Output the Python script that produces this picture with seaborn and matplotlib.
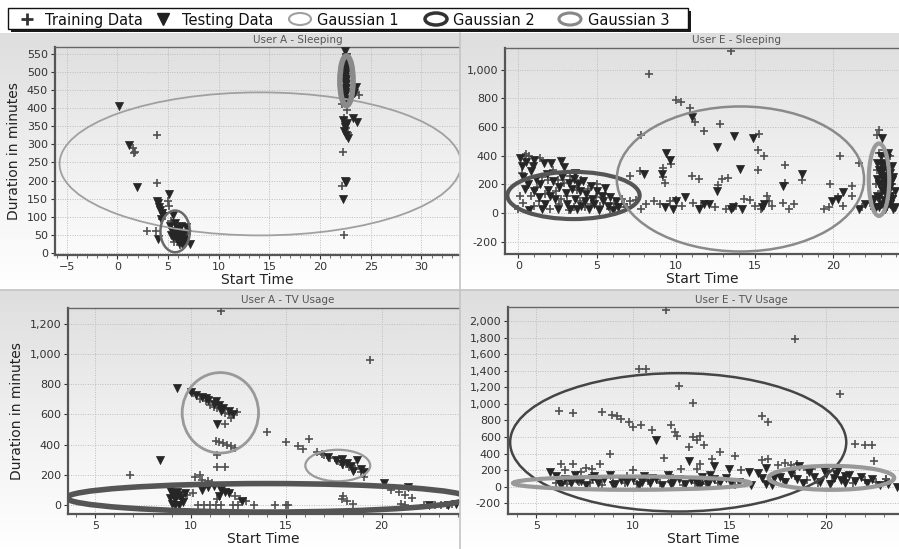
import numpy as np
import pandas as pd
import seaborn as sns
import matplotlib
matplotlib.use("Agg")
import matplotlib.pyplot as plt
from matplotlib.patches import Ellipse, Rectangle
from matplotlib.lines import Line2D
from matplotlib.ticker import MultipleLocator, FuncFormatter
from matplotlib.colors import LinearSegmentedColormap

# ---------------- data ----------------
# User A - Sleeping
a_sleep_train = [(1.5,290),(1.6,275),(1.7,280),(3.9,325),(3.9,193),(2.9,60),(3.8,62),(5.0,145),(5.1,130),(4.7,110),
                 (4.4,95),(5.3,88),(6.4,65),(6.9,52),(5.6,32),(6.2,22),(7.0,62),(5.9,45),(6.6,30),(5.4,70),
                 (22.3,520),(22.2,500),(22.4,480),(22.3,450),(22.6,430),(22.2,410),(22.7,395),(23.8,435),(23.4,442),
                 (22.4,372),(22.6,345),(22.3,280),(22.2,185),(22.4,50),(22.8,330),(22.5,415),(22.6,545),(22.7,520),(22.5,460)]
a_sleep_test = [(0.2,405),(1.1,298),(1.9,183),(3.9,145),(4.0,138),(4.1,128),(4.2,118),(4.4,110),(4.5,103),(4.3,93),
                (4.0,40),(5.1,163),(5.5,105),(5.2,75),(5.4,62),(5.6,55),(5.8,50),(6.0,45),(6.2,40),(5.9,35),(6.1,28),
                (6.4,25),(6.6,55),(6.8,72),(7.2,25),(6.3,75),(5.7,82),(6.5,40),(5.5,45),(6.0,60),(5.9,70),(6.7,35),
                (5.3,50),(6.3,50),
                (22.5,557),(22.6,540),(22.4,515),(22.6,495),(22.5,475),(22.6,455),(22.5,435),(22.7,505),(22.5,485),
                (22.6,465),(22.4,445),(22.5,525),(22.6,510),(22.5,500),(22.6,480),(22.5,468),(22.6,445),(22.5,425),
                (22.6,415),(22.5,455),(22.5,530),(22.6,420),
                (23.5,458),(23.3,440),(23.2,372),(23.6,362),(22.3,366),(22.5,352),(22.4,337),
                (22.6,326),(22.8,316),(22.5,348),(22.7,360),(22.5,200),(22.6,195),(22.3,150)]
# (center x, center y, width, height, colour, linewidth)
a_sleep_gauss = [(14.1,246,39.6,394,'#a0a0a0',1.3),(5.7,60,2.9,115,'#6a6a6a',1.8),(22.6,475,1.3,137,'#8a8a8a',4.0)]

# User E - Sleeping
e_sleep_train = [(0.0,30),(0.1,120),(0.2,280),(0.3,70),(0.5,410),(0.7,400),(0.8,120),(1.0,50),(1.2,180),(1.4,380),
                 (1.5,250),(1.7,130),(2.0,30),(2.2,300),(2.4,150),(2.6,60),(2.9,210),(3.1,120),(3.3,260),(3.5,40),
                 (3.7,160),(4.0,230),(4.2,40),(4.4,170),(4.6,60),(4.9,110),(5.2,50),(5.5,130),(5.8,30),(6.1,60),
                 (6.4,40),(6.7,60),(6.9,40),(7.1,80),(0.4,400),(1.9,230),(2.7,100),(3.9,80),(5.0,200),(6.6,100),
                 (3.2,20),(2.5,230),(1.3,80),
                 (13.5,1130),(8.3,970),(10.0,785),(10.3,775),(10.9,730),(11.2,635),(11.8,570),(12.8,620),(7.8,545),
                 (15.3,550),(15.2,440),(15.6,400),(15.2,300),(16.9,335),(16.9,210),(18.0,230),(20.4,400),(21.6,350),
                 (19.8,200),(21.2,185),(21.2,120),(9.2,315),(9.2,250),(9.3,210),(9.7,340),(7.1,255),(7.7,295),
                 (11.0,260),(11.5,240),(12.7,195),(12.9,240),(13.3,245),(7.5,90),(7.8,30),(8.1,60),(8.6,80),(9.0,60),
                 (9.6,80),(10.0,90),(10.4,50),(11.1,70),(11.6,50),(12.5,40),(13.2,30),(13.8,50),(14.3,100),(14.7,90),
                 (15.0,50),(15.4,30),(15.9,80),(15.8,120),(16.1,50),(16.8,70),(17.2,30),(17.5,60),(19.4,30),(19.7,40),
                 (20.3,110),(20.6,50),(21.8,40),(22.3,70),
                 (22.9,580),(22.8,545),(22.6,60),(22.7,200),(22.8,300),(22.9,420),(23.0,150),(23.1,340),(23.2,50),
                 (23.3,260),(23.4,170),(23.5,330),(23.5,80),(23.6,400),(23.7,200),(23.8,120),(23.0,230),(23.2,440),
                 (23.4,40),(22.6,30)]
e_sleep_test = [(0.1,385),(0.2,330),(0.3,250),(0.4,170),(0.5,355),(0.6,200),(0.8,290),(0.9,330),(1.0,150),(1.1,240),
                (1.3,110),(1.4,200),(1.6,345),(1.7,60),(1.8,270),(1.9,160),(2.1,350),(2.2,220),(2.3,100),(2.5,30),
                (2.6,180),(2.7,365),(2.8,250),(3.0,140),(3.1,60),(3.2,210),(3.4,170),(3.5,240),(3.6,100),(3.7,30),
                (3.8,200),(3.9,150),(4.1,220),(4.2,80),(4.3,130),(4.5,30),(4.6,190),(4.7,100),(4.8,60),(5.0,150),
                (5.1,20),(5.3,120),(5.4,80),(5.5,175),(5.7,50),(5.8,110),(6.0,20),(6.2,80),(6.3,40),(0.7,20),(1.5,30),
                (2.0,120),(3.3,30),(4.0,50),(2.9,320),(3.6,280),(1.0,370),
                (11.0,670),(13.7,540),(14.9,520),(12.6,460),(9.4,420),(9.6,370),(14.1,305),(9.1,270),(8.0,275),
                (18.0,270),(16.8,190),(12.6,150),(22.0,65),(20.6,145),(20.3,100),(19.9,80),(10.0,80),(10.6,110),
                (11.8,60),(9.3,40),(9.8,30),(11.5,30),(13.5,30),(14.2,30),(15.6,60),(15.5,40),(21.6,25),(13.6,40),
                (12.1,65),
                (23.1,520),(22.7,40),(22.8,120),(22.9,200),(22.9,300),(23.0,400),(23.0,60),(23.1,160),(23.1,250),
                (23.2,350),(23.2,90),(23.3,200),(23.3,30),(23.4,300),(23.4,130),(23.5,420),(23.5,240),(23.6,60),
                (23.6,180),(23.7,330),(23.7,100),(23.8,30),(23.8,250),(22.8,350),(22.9,40),(23.0,280),(23.2,180),
                (23.4,380),(23.6,280),(22.6,100),(23.9,150),(23.9,40),(22.9,110),(23.1,300),(23.3,140),(23.5,180),
                (23.7,230),(23.0,340),(23.2,260),(23.4,220),(23.6,120),(22.8,240)]
e_sleep_gauss = [(3.5,122,8.4,329,'#555555',3.0),(14.1,237,15.7,1011,'#8a8a8a',1.8),(22.9,232,1.3,505,'#9a9a9a',3.0)]

# User A - TV Usage
a_tv_train = [(11.6,1285),(19.4,962),(6.8,200),(14.0,485),(15.0,420),(15.6,395),(15.9,375),(16.2,440),(16.6,355),
              (16.9,340),(11.4,330),(11.4,250),(11.8,250),(12.4,615),(11.8,535),(10.1,740),(10.5,700),(10.8,690),
              (11.0,665),(11.2,650),(11.4,640),(11.6,650),(11.8,610),(12.0,600),(12.1,580),(11.3,425),(11.5,420),
              (11.7,410),(11.9,400),(12.1,390),(12.3,380),(17.0,330),(17.3,310),(17.7,290),(18.0,265),(18.3,250),
              (18.6,240),(18.9,220),(19.1,190),(18.0,60),(17.9,40),(18.2,30),(18.5,10),(20.5,100),(20.9,90),
              (21.2,70),(21.6,50),(21.0,10),(21.2,5),(22.2,5),(22.8,3),(23.1,5),(23.4,3),(23.7,8),
              (10.2,190),(10.5,200),(10.6,170),(10.9,160),(11.1,150),(9.8,70),(9.5,40),(10.4,5),(10.7,5),(11.0,5),
              (11.3,5),(11.6,5),(12.2,5),(12.5,5),(13.3,0),(14.4,0),(15.0,0),(15.1,0),(12.0,90),(12.3,60),(11.4,40),
              (12.6,40),(12.9,30),(10.1,80)]
a_tv_test = [(9.3,775),(8.4,300),(11.4,540),(10.0,750),(10.3,730),(10.6,715),(10.9,695),(11.2,670),(11.5,660),
             (11.7,645),(12.0,620),(11.3,690),(10.8,710),(12.2,605),(11.6,620),(17.2,320),(17.6,300),(17.9,305),
             (18.2,280),(18.4,260),(18.7,300),(18.9,240),(19.1,220),(18.5,230),(17.9,270),
             (8.9,100),(9.0,80),(9.1,60),(9.2,40),(9.0,10),(9.3,90),(9.4,70),(9.5,50),(9.6,20),(9.2,0),(9.4,0),
             (8.9,50),(9.7,80),(10.9,120),(11.2,130),(11.6,100),(11.8,90),(12.0,80),(11.5,60),(10.6,100),(12.7,30),
             (20.1,150),(21.4,120),(23.9,10),(22.5,5),(23.5,5)]
a_tv_gauss = [(11.55,611,4.0,531,'#999999',2.0),(17.7,263,3.4,208,'#9a9a9a',1.6),(14.0,50,21.0,188,'#555555',4.0)]

# User E - TV Usage
e_tv_train = [(11.7,2135),(18.4,1778),(10.3,1420),(10.7,1415),(12.4,1220),(13.1,1010),(20.7,1120),(6.2,915),(6.9,890),
              (8.4,900),(8.9,870),(9.2,850),(9.4,820),(9.8,780),(10.0,720),(10.4,740),(11.0,680),(12.0,750),(12.2,660),
              (12.3,610),(13.1,600),(13.3,560),(13.5,610),(13.7,500),(12.9,480),(14.5,420),(14.1,330),(11.6,350),
              (8.8,400),(15.3,370),(16.7,850),(17.0,780),(21.5,520),(22.0,500),(22.4,510),(22.5,310),(16.7,320),
              (17.0,330),(6.3,280),(6.9,280),(6.5,200),(7.3,180),(7.6,230),(7.9,220),(8.3,280),(10.0,200),(12.5,210),
              (13.3,210),(15.6,200),(17.5,260),(17.9,290),(18.2,260),(18.5,270),(19.0,200),(23.1,100),(13.5,270),
              (11.9,140),(9.7,130),
              (6.0,50),(6.6,30),(7.2,60),(7.8,40),(8.4,20),(9.0,60),(9.6,40),(10.2,30),(10.8,70),(11.4,40),(12.0,60),
              (12.6,20),(13.2,40),(13.8,30),(14.4,50),(15.3,20),(17.8,100),(18.4,130),(19.0,80),(19.6,50),(20.3,70),
              (20.9,100),(21.4,40),(22.0,80),(22.6,60),(23.1,100),(20.0,220),(19.3,210)]
e_tv_test = [(5.7,180),(6.0,130),(6.2,60),(6.5,100),(6.8,40),(7.0,140),(7.3,70),(7.6,20),(7.9,110),(8.2,50),(8.5,90),
             (8.8,140),(9.1,30),(9.4,80),(9.7,60),(10.0,100),(10.3,20),(10.6,130),(10.9,50),(11.2,90),(11.5,20),
             (11.8,140),(12.1,60),(12.4,100),(12.7,30),(13.0,80),(13.3,50),(13.6,120),(13.9,30),(14.2,90),(14.5,60),
             (14.8,110),(15.1,40),(6.3,20),(7.1,80),(8.0,130),(9.0,20),(10.5,60),(11.0,110),(12.0,30),(13.5,20),
             (14.0,140),(15.5,60),(16.1,20),
             (11.2,570),(12.9,310),(14.2,250),(15.0,210),(16.0,180),(16.5,170),(16.9,230),(16.7,110),(16.9,30),
             (17.2,20),(17.3,110),
             (17.6,120),(17.9,60),(18.2,150),(18.5,90),(18.8,40),(19.1,180),(19.4,120),(19.7,60),(20.0,150),
             (20.2,30),(20.4,110),(20.6,200),(20.8,80),(21.0,40),(21.2,140),(21.5,70),(21.8,120),(22.1,40),
             (22.4,90),(22.8,20),(23.2,30),(23.7,0),(19.9,200),(20.5,160),(21.0,130),(18.6,250)]
e_tv_gauss = [(12.35,536,17.4,1668,'#454545',1.8),(9.95,44,12.3,160,'#999999',3.0),(20.28,108,6.5,289,'#999999',3.0)]

panel_titles = ["User A - Sleeping", "User E - Sleeping", "User A - TV Usage", "User E - TV Usage"]
legend_labels = ["Training Data", "Testing Data", "Gaussian 1", "Gaussian 2", "Gaussian 3"]

# ---------------- style ----------------
sns.set_theme(style="white")
plt.rcParams['font.family'] = ['DejaVu Sans']

W, H = 899, 549
fig = plt.figure(figsize=(W/100, H/100), dpi=100)
fig.patch.set_facecolor('white')

def fx(px): return px / W
def fy(py): return 1 - py / H

# panel backgrounds (gradient)
grad = np.linspace(0, 1, 256).reshape(-1, 1)
panels_px = [(0, 33, 460, 290), (460, 33, 899, 290), (0, 290, 460, 549), (460, 290, 899, 549)]
cmap_bg = LinearSegmentedColormap.from_list('bg', ['#dedede', '#f0f0f0', '#ffffff'])
for (x0, y0, x1, y1) in panels_px:
    bg = fig.add_axes([fx(x0), fy(y1), fx(x1 - x0), (y1 - y0) / H], zorder=0)
    bg.imshow(grad, aspect='auto', cmap=cmap_bg, extent=[0, 1, 0, 1], origin='upper')
    bg.axis('off')

# divider lines
fig.add_artist(Line2D([fx(460), fx(460)], [0, fy(33)], color='#c4c4c4', lw=1.2, zorder=5))
fig.add_artist(Line2D([0, 1], [fy(290), fy(290)], color='#c4c4c4', lw=1.2, zorder=5))

axes_px = [(55, 47, 459, 255), (505, 48, 899, 254), (68, 308, 459, 514), (508, 307, 899, 514)]
limits = [((-6.15, 33.7), (-5, 568)), ((-0.85, 24.17), (-286, 1150)),
          ((3.57, 24.05), (-57, 1303)), ((3.54, 23.78), (-328, 2168))]
yticks = [np.arange(0, 551, 50), np.arange(-200, 1001, 200), np.arange(0, 1201, 200), np.arange(-200, 2001, 200)]
xticks = [np.arange(-5, 31, 5), np.arange(0, 21, 5), np.arange(5, 21, 5), np.arange(5, 21, 5)]
title_pos = [(298, 40), (736, 40), (288, 300), (741, 300)]
datasets = [(a_sleep_train, a_sleep_test, a_sleep_gauss), (e_sleep_train, e_sleep_test, e_sleep_gauss),
            (a_tv_train, a_tv_test, a_tv_gauss), (e_tv_train, e_tv_test, e_tv_gauss)]

comma = FuncFormatter(lambda v, p: f"{int(v):,}")

for i, ((l, t, r, b), (xl, yl), (tr, te, ga)) in enumerate(zip(axes_px, limits, datasets)):
    ax = fig.add_axes([fx(l), fy(b), fx(r - l), (b - t) / H], zorder=2)
    ax.set_facecolor('none')
    dtr = pd.DataFrame(tr, columns=['x', 'y'])
    dte = pd.DataFrame(te, columns=['x', 'y'])
    sns.scatterplot(data=dtr, x='x', y='y', marker='+', color='#505050', s=28, linewidth=1.2, ax=ax, zorder=3)
    sns.scatterplot(data=dte, x='x', y='y', marker='v', color='#262626', s=34, edgecolor='#262626',
                    linewidth=0.5, ax=ax, zorder=4)
    for (cx, cy, w, h, col, lw) in ga:
        ax.add_patch(Ellipse((cx, cy), w, h, facecolor='none', edgecolor=col, lw=lw, zorder=5))
    ax.set_xlim(*xl)
    ax.set_ylim(*yl)
    ax.set_xticks(xticks[i])
    ax.set_yticks(yticks[i])
    ax.xaxis.set_minor_locator(MultipleLocator(1))
    ax.yaxis.set_major_formatter(comma)
    ax.grid(True, which='major', color='#bdbdbd', ls=(0, (1, 1.5)), lw=0.7)
    ax.set_axisbelow(True)
    ax.tick_params(axis='both', which='major', labelsize=8, colors='#333333', length=3, width=0.8,
                   bottom=True, left=True, pad=2)
    ax.tick_params(axis='x', which='minor', length=2, width=0.6, colors='#555555', bottom=True)
    for s in ['left', 'bottom']:
        ax.spines[s].set_color('#555555')
        ax.spines[s].set_linewidth(1.6)
    ax.spines['top'].set_color('#666666')
    ax.spines['top'].set_linewidth(1.0)
    ax.spines['right'].set_visible(False)
    ax.set_xlabel('Start Time', fontsize=10, color='#222222', labelpad=1)
    if i in (0, 2):
        ax.set_ylabel('Duration in minutes', fontsize=10, color='#222222', labelpad=4)
    else:
        ax.set_ylabel('')
    tx, ty = title_pos[i]
    fig.text(fx(tx), fy(ty), panel_titles[i], ha='center', va='center', fontsize=7.5, color='#555555', zorder=6)

# ---------------- legend (drawn in figure pixels) ----------------
lg_left, lg_right, lg_top, lg_bot = 8, 688, 8, 29
lg_mid = 19
fig.add_artist(Rectangle((fx(lg_left + 3), fy(lg_bot + 3)), fx(lg_right - lg_left), (lg_bot - lg_top) / H,
                         transform=fig.transFigure, facecolor='#1a1a1a', edgecolor='none', zorder=20))
fig.add_artist(Rectangle((fx(lg_left), fy(lg_bot)), fx(lg_right - lg_left), (lg_bot - lg_top) / H,
                         transform=fig.transFigure, facecolor='white', edgecolor='#111111', lw=1.0, zorder=21))
fig.add_artist(Line2D([fx(27)], [fy(lg_mid)], marker='+', ls='none', color='#333333', markersize=9, mew=2,
                      transform=fig.transFigure, zorder=22))
fig.add_artist(Line2D([fx(163)], [fy(lg_mid)], marker='v', ls='none', color='#222222', markersize=9,
                      transform=fig.transFigure, zorder=22))
for cx, col, lw in [(300, '#a0a0a0', 1.5), (436, '#333333', 2.5), (570, '#888888', 2.2)]:
    fig.add_artist(Ellipse((fx(cx), fy(lg_mid)), 22 / W, 12 / H, transform=fig.transFigure,
                           facecolor='none', edgecolor=col, lw=lw, zorder=22))
for tx, lab in zip([45, 182, 317, 453, 588], legend_labels):
    fig.text(fx(tx), fy(lg_mid), lab, ha='left', va='center_baseline', fontsize=10.5, color='#111111', zorder=23)

fig.savefig('out.png', dpi=100, facecolor='white')
